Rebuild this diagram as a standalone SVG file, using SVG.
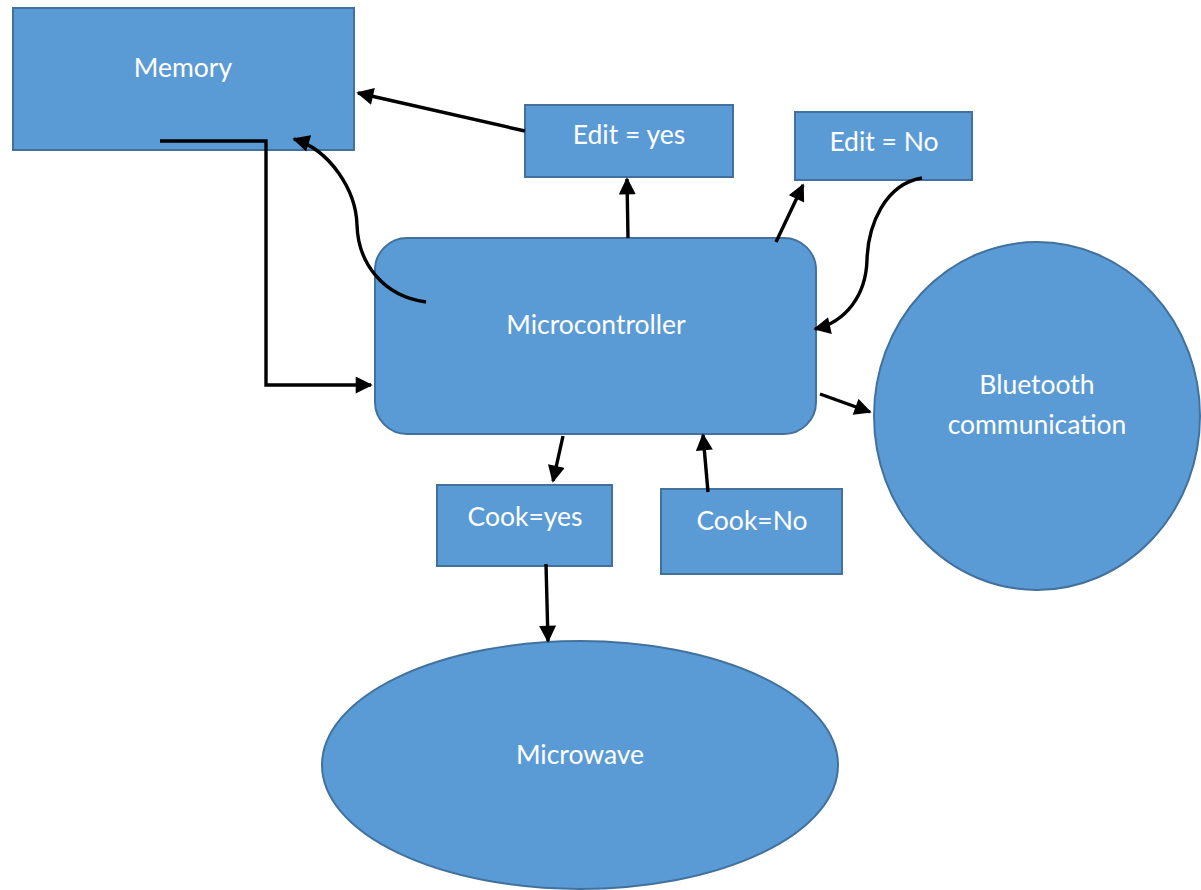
<svg xmlns="http://www.w3.org/2000/svg" width="1201" height="890" viewBox="0 0 1201 890">
<defs>
<style>
.shape{fill:#5B9BD5;stroke:#41719C;stroke-width:2}
.lbl{fill:#FFFFFF;font-family:Lato,"Open Sans","Liberation Sans",sans-serif;font-size:26.5px;text-anchor:middle}
.conn{fill:none;stroke:#000000;stroke-width:3.4}
.arr{marker-end:url(#ah)}
</style>
<marker id="ah" viewBox="0 0 10 10" refX="9" refY="5" markerWidth="5.2" markerHeight="5" orient="auto" markerUnits="strokeWidth">
<path d="M0,0 L10,5 L0,10 Z" fill="#000000"/>
</marker>
</defs>
<rect width="1201" height="890" fill="#FFFFFF"/>
<g id="memory">
<rect class="shape" x="13" y="8" width="341" height="142"/>
<text class="lbl" x="183" y="77">Memory</text>
</g>
<g id="edit-yes">
<rect class="shape" x="525" y="105" width="208" height="72"/>
<text class="lbl" x="629" y="144">Edit = yes</text>
</g>
<g id="edit-no">
<rect class="shape" x="795" y="112" width="177" height="68"/>
<text class="lbl" x="884" y="151">Edit = No</text>
</g>
<g id="microcontroller">
<rect class="shape" x="375" y="238" width="441" height="196" rx="32" ry="32"/>
<text class="lbl" x="596" y="334">Microcontroller</text>
</g>
<g id="bluetooth">
<ellipse class="shape" cx="1037" cy="416" rx="163" ry="174"/>
<text class="lbl" x="1037" y="394">Bluetooth</text>
<text class="lbl" x="1037" y="434">communication</text>
</g>
<g id="cook-yes">
<rect class="shape" x="437" y="485" width="175" height="81"/>
<text class="lbl" x="525" y="526">Cook=yes</text>
</g>
<g id="cook-no">
<rect class="shape" x="661" y="489" width="181" height="85"/>
<text class="lbl" x="752" y="530">Cook=No</text>
</g>
<g id="microwave">
<ellipse class="shape" cx="580" cy="765" rx="258" ry="124"/>
<text class="lbl" x="580" y="764">Microwave</text>
</g>
<g id="connectors">
<line class="conn arr" x1="525" y1="131" x2="358" y2="93"/>
<polyline class="conn arr" points="160,141 266,141 266,385 371,385"/>
<path class="conn arr" d="M426,302 C382,296 358,262 357,225 C356,190 330,150 294,139"/>
<line class="conn arr" x1="628" y1="238" x2="627" y2="179"/>
<line class="conn arr" x1="776" y1="242" x2="803" y2="185"/>
<path class="conn arr" d="M922,178 C885,184 868,225 867,260 C866,295 846,322 815,329"/>
<line class="conn arr" x1="820" y1="394" x2="870" y2="412"/>
<line class="conn arr" x1="563" y1="436" x2="553" y2="481"/>
<line class="conn arr" x1="708" y1="492" x2="703" y2="435"/>
<line class="conn arr" x1="546" y1="564" x2="548" y2="641"/>
</g>
</svg>
